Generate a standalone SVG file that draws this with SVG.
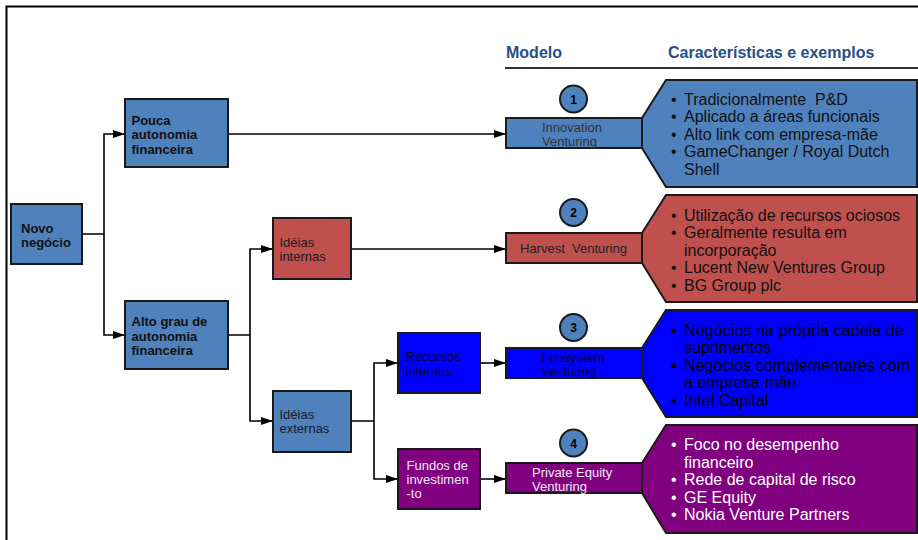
<svg xmlns="http://www.w3.org/2000/svg" width="918" height="540" viewBox="0 0 918 540">
<defs>
<marker id="arr" markerUnits="userSpaceOnUse" markerWidth="12" markerHeight="8" refX="12" refY="4" orient="auto">
<path d="M0,0 L12,4 L0,8 z" fill="#000"/>
</marker>
</defs>
<style>
text{font-family:"Liberation Sans",Arial,sans-serif}
.box{stroke:#1a1a1a;stroke-width:2}
.b{fill:#4F81BD}.r{fill:#C0504D}.bb{fill:#0000FF}.p{fill:#800080}
.nb{font-size:13px;font-weight:bold;fill:#111}
.nn{font-size:13px;fill:#1a1a1a}
.ml{font-size:13px}
.hx{font-size:16px}
.hd{font-size:16px;font-weight:bold;fill:#25508A}
.num{font-size:12px;font-weight:bold;fill:#000;text-anchor:middle}
.conn path{fill:none;stroke:#000;stroke-width:1.6}
</style>
<rect width="918" height="540" fill="#fff"/>
<path d="M6.5,540 V6.5 H918" fill="none" stroke="#000" stroke-width="2"/>
<g id="header">
<text class="hd" x="506" y="58">Modelo</text>
<text class="hd" x="668" y="58">Características e exemplos</text>
<line x1="505" y1="68" x2="918" y2="68" stroke="#333" stroke-width="2"/>
</g>
<g class="conn" id="connectors">
<path d="M82,234 H104 V134 H125" marker-end="url(#arr)"/>
<path d="M104,234 V335 H125" marker-end="url(#arr)"/>
<path d="M228,134 H506" marker-end="url(#arr)"/>
<path d="M228,335 H250 V249 H273" marker-end="url(#arr)"/>
<path d="M250,335 V421 H273" marker-end="url(#arr)"/>
<path d="M351,249 H506" marker-end="url(#arr)"/>
<path d="M351,421 H374 V363 H398" marker-end="url(#arr)"/>
<path d="M374,421 V479 H398" marker-end="url(#arr)"/>
<path d="M480,363 H506" marker-end="url(#arr)"/>
<path d="M480,479 H506" marker-end="url(#arr)"/>
</g>
<g id="novo">
<rect class="box b" x="11" y="204" width="71" height="60"/>
<text class="nb" x="21" y="232.5">Novo</text>
<text class="nb" x="21" y="247">negócio</text>
</g>
<g id="pouca">
<rect class="box b" x="125" y="99" width="103" height="68"/>
<text class="nb" x="131.5" y="124.5">Pouca</text>
<text class="nb" x="131.5" y="139">autonomia</text>
<text class="nb" x="131.5" y="153.5">financeira</text>
</g>
<g id="alto">
<rect class="box b" x="125" y="301" width="103" height="68"/>
<text class="nb" x="131.5" y="326">Alto grau de</text>
<text class="nb" x="131.5" y="340.5">autonomia</text>
<text class="nb" x="131.5" y="354.5">financeira</text>
</g>
<g id="ideias-internas">
<rect class="box r" x="273" y="218" width="78" height="61"/>
<text class="nn" x="279.5" y="247">Idéias</text>
<text class="nn" x="279.5" y="261">internas</text>
</g>
<g id="ideias-externas">
<rect class="box b" x="273" y="391" width="78" height="61"/>
<text class="nn" x="279.5" y="419">Idéias</text>
<text class="nn" x="279.5" y="433">externas</text>
</g>
<g id="recursos">
<rect class="box bb" x="398" y="333" width="82" height="60"/>
<text class="nn" x="405.5" y="361" style="fill:#000033">Recursos</text>
<text class="nn" x="405.5" y="376" style="fill:#000033">internos</text>
</g>
<g id="fundos">
<rect class="box p" x="398" y="449" width="82" height="60"/>
<text class="nn" x="406.5" y="470" style="fill:#f4e8f4">Fundos de</text>
<text class="nn" x="406.5" y="484" style="fill:#f4e8f4">investimen</text>
<text class="nn" x="406.5" y="498" style="fill:#f4e8f4">-to</text>
</g>
<g id="model1">
<polygon class="box b" points="642,118 666,80 917,80 917,187 666,187 642,148"/>
<rect class="box b" x="506" y="118" width="136" height="30"/>
<text class="ml" x="542" y="131.5" fill="#333">Innovation</text>
<text class="ml" x="542" y="145.5" fill="#333">Venturing</text>
<circle class="box b" cx="573.5" cy="99" r="13.5"/>
<text class="num" x="573.5" y="103.5">1</text>
<g class="hx" fill="#111">
<text x="671" y="104.5">•</text><text x="684" y="104.5">Tradicionalmente&#160; P&amp;D</text>
<text x="671" y="122">•</text><text x="684" y="122">Aplicado a áreas funcionais</text>
<text x="671" y="139.5">•</text><text x="684" y="139.5">Alto link com empresa-mãe</text>
<text x="671" y="157">•</text><text x="684" y="157">GameChanger / Royal Dutch</text>
<text x="684" y="174.5">Shell</text>
</g>
</g>
<g id="model2">
<polygon class="box r" points="642,233 666,195 917,195 917,302 666,302 642,263"/>
<rect class="box r" x="506" y="233" width="136" height="30"/>
<text class="ml" x="520" y="253" fill="#222">Harvest&#160; Venturing</text>
<circle class="box b" cx="573.5" cy="212.5" r="13.5"/>
<text class="num" x="573.5" y="217">2</text>
<g class="hx" fill="#111">
<text x="671" y="220.5">•</text><text x="684" y="220.5">Utilização de recursos ociosos</text>
<text x="671" y="238">•</text><text x="684" y="238">Geralmente resulta em</text>
<text x="684" y="255.5">incorporação</text>
<text x="671" y="273">•</text><text x="684" y="273">Lucent New Ventures Group</text>
<text x="671" y="290.5">•</text><text x="684" y="290.5">BG Group plc</text>
</g>
</g>
<g id="model3">
<polygon class="box bb" points="642,348 666,310 917,310 917,417 666,417 642,378"/>
<rect class="box bb" x="506" y="348" width="136" height="30"/>
<text class="ml" x="541" y="361.5" fill="#000033">Ecosystem</text>
<text class="ml" x="541" y="375.5" fill="#000033">Venturing</text>
<circle class="box b" cx="573.5" cy="327.5" r="13.5"/>
<text class="num" x="573.5" y="332">3</text>
<g class="hx" fill="#000">
<text x="671" y="335.5">•</text><text x="684" y="335.5" textLength="220" lengthAdjust="spacing">Negócios na própria cadeia de</text>
<text x="684" y="353">suprimentos</text>
<text x="671" y="370.5">•</text><text x="684" y="370.5" textLength="226" lengthAdjust="spacing">Negócios complementares com</text>
<text x="684" y="388">a empresa-mãe</text>
<text x="671" y="405.5">•</text><text x="684" y="405.5">Intel Capital</text>
</g>
</g>
<g id="model4">
<polygon class="box p" points="642,463 666,425 917,425 917,533 666,533 642,493"/>
<rect class="box p" x="506" y="463" width="136" height="30"/>
<text class="ml" x="532" y="476.5" fill="#f4e8f4">Private Equity</text>
<text class="ml" x="532" y="490.5" fill="#f4e8f4">Venturing</text>
<circle class="box b" cx="573.5" cy="443" r="13.5"/>
<text class="num" x="573.5" y="447.5">4</text>
<g class="hx" fill="#fff">
<text x="671" y="450">•</text><text x="684" y="450">Foco no desempenho</text>
<text x="684" y="467.5">financeiro</text>
<text x="671" y="485">•</text><text x="684" y="485">Rede de capital de risco</text>
<text x="671" y="502.5">•</text><text x="684" y="502.5">GE Equity</text>
<text x="671" y="520">•</text><text x="684" y="520">Nokia Venture Partners</text>
</g>
</g>
</svg>
